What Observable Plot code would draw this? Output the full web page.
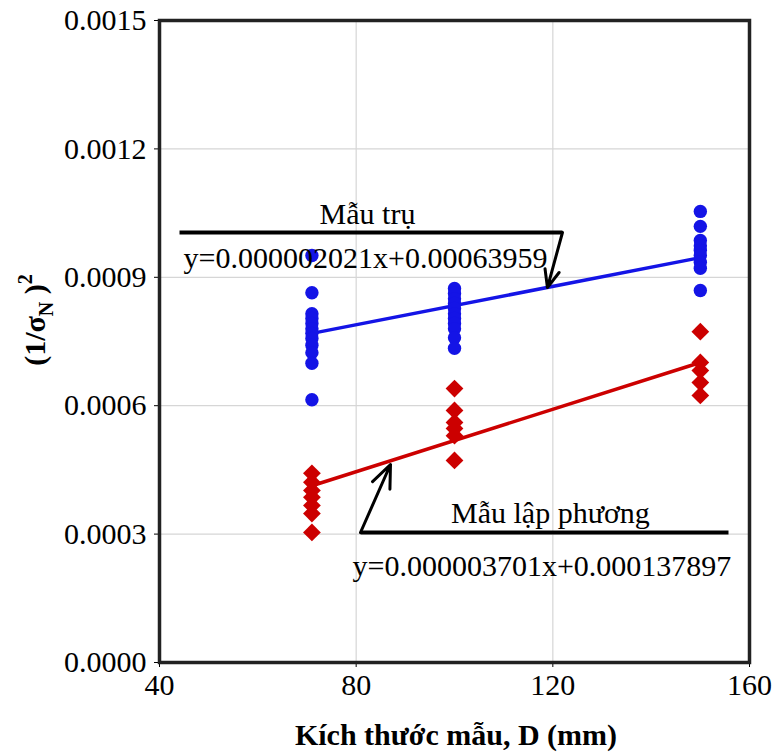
<!DOCTYPE html>
<html>
<head>
<meta charset="utf-8">
<script src="https://cdn.jsdelivr.net/npm/d3@7"></script>
<script src="https://cdn.jsdelivr.net/npm/@observablehq/plot@0.6"></script>
<style>
  html, body { margin: 0; padding: 0; background: #fff; }
</style>
</head>
<body>
<div id="chart"></div>
<script>
// ---- data ----
const xTicks = [40, 80, 120, 160];
const yTicks = [0, 0.0003, 0.0006, 0.0009, 0.0012, 0.0015];
const sizes = [71, 100, 150];

// cylinder specimens ("Mẫu trụ")
const cylAt71 = [0.000951, 0.000864, 0.000815, 0.000804, 0.000792, 0.000780, 0.000769, 0.000757, 0.000741, 0.000724, 0.000699, 0.000614];
const cylAt100 = [0.000874, 0.000862, 0.000850, 0.000839, 0.000827, 0.000815, 0.000804, 0.000792, 0.000780, 0.000759, 0.000734];
const cylAt150 = [0.001054, 0.001019, 0.000986, 0.000974, 0.000963, 0.000951, 0.000935, 0.000921, 0.000869];

// cube specimens ("Mẫu lập phương")
const cubeAt71 = [0.000442, 0.000421, 0.000402, 0.000386, 0.000367, 0.000348, 0.000304];
const cubeAt100 = [0.000640, 0.000589, 0.000561, 0.000547, 0.000530, 0.000472];
const cubeAt150 = [0.000773, 0.000701, 0.000682, 0.000654, 0.000624];

// fitted lines (end points as drawn)
const fitX = [71, 150];
const fitCyl = [0.000769, 0.000946];
const fitCube = [0.000413, 0.000701];

// annotation texts and anchors (data units)
const nameText = ["Mẫu trụ", "Mẫu lập phương"];
const nameX = [82.3, 119.5];
const nameY = [0.0010474, 0.0003488];
const eqText = ["y=0.000002021x+0.00063959", "y=0.000003701x+0.000137897"];
const eqX = [44.9, 79.25];
const eqY = [0.0009446, 0.000225];

const leaderX1 = [44.07, 80.88];
const leaderX2 = [121.96, 155.73];
const leaderY = [0.0010047, 0.0003037];
const arrowFromX = [121.96, 80.88];
const arrowFromY = [0.0010047, 0.0003037];
const arrowToX = [118.9, 86.98];
const arrowToY = [0.000876, 0.0004626];

// ---- build tables ----
const cylPts = [cylAt71, cylAt100, cylAt150].flatMap((vals, i) => vals.map(v => ({x: sizes[i], y: v})));
const cubePts = [cubeAt71, cubeAt100, cubeAt150].flatMap((vals, i) => vals.map(v => ({x: sizes[i], y: v})));
const cylFit = fitX.map((x, i) => ({x, y: fitCyl[i]}));
const cubeFit = fitX.map((x, i) => ({x, y: fitCube[i]}));
const names = nameText.map((t, i) => ({t, x: nameX[i], y: nameY[i]}));
const eqs = eqText.map((t, i) => ({t, x: eqX[i], y: eqY[i]}));
const leaders = leaderX1.map((x1, i) => ({x1, x2: leaderX2[i], y: leaderY[i]}));
const arrows = arrowFromX.map((x1, i) => ({x1, y1: arrowFromY[i], x2: arrowToX[i], y2: arrowToY[i]}));

const BLUE = "#1414e6";
const RED = "#cc0000";
const FONT = "'Liberation Serif', 'Times New Roman', serif";

const svg = Plot.plot({
  width: 778,
  height: 754,
  marginLeft: 159,
  marginRight: 29,
  marginTop: 20,
  marginBottom: 92,
  style: {fontFamily: FONT, fontSize: "30px", color: "#000", background: "#fff"},
  x: {domain: [40, 160]},
  y: {domain: [0, 0.0015]},
  marks: [
    Plot.gridY(yTicks, {stroke: "#d6d6d6", strokeOpacity: 1, strokeWidth: 1.2}),
    Plot.gridX(xTicks, {stroke: "#d6d6d6", strokeOpacity: 1, strokeWidth: 1.2}),
    Plot.axisY({ticks: yTicks, tickFormat: d3.format(".4f"), tickSize: 5, tickPadding: 8, label: null, fontSize: 30}),
    Plot.axisX({ticks: xTicks, tickSize: 5, tickPadding: 6, label: null, fontSize: 30}),
    Plot.line(cylFit, {x: "x", y: "y", stroke: BLUE, strokeWidth: 3.5}),
    Plot.line(cubeFit, {x: "x", y: "y", stroke: RED, strokeWidth: 3.5}),
    Plot.dot(cylPts, {x: "x", y: "y", r: 6.7, fill: BLUE, stroke: null}),
    Plot.dot(cubePts, {x: "x", y: "y", r: 8, symbol: "diamond2", fill: RED, stroke: null}),
    Plot.text(names, {x: "x", y: "y", text: "t", textAnchor: "middle", fontSize: 30, fill: "#000", lineAnchor: "middle"}),
    Plot.text(eqs, {x: "x", y: "y", text: "t", textAnchor: "start", fontSize: 30, fill: "#000", lineAnchor: "middle"}),
    Plot.link(leaders, {x1: "x1", x2: "x2", y1: "y", y2: "y", stroke: "#000", strokeWidth: 4}),
    Plot.arrow(arrows, {x1: "x1", y1: "y1", x2: "x2", y2: "y2", stroke: "#000", strokeWidth: 3, headLength: 16, headAngle: 45}),
    Plot.frame({stroke: "#222", strokeWidth: 3.5})
  ]
});

const s = d3.select(svg);
// x axis title
s.append("text")
  .attr("x", 456).attr("y", 745)
  .attr("text-anchor", "middle")
  .attr("font-family", FONT).attr("font-weight", "bold").attr("font-size", 30)
  .attr("fill", "#000")
  .text("Kích thước mẫu, D (mm)");
// y axis title with subscript / superscript
const yl = s.append("text")
  .attr("transform", "translate(45,320) rotate(-90)")
  .attr("text-anchor", "middle")
  .attr("font-family", FONT).attr("font-weight", "bold").attr("font-size", 30)
  .attr("fill", "#000");
yl.append("tspan").text("(1/σ");
yl.append("tspan").attr("font-size", 20).attr("dy", 8).text("N");
yl.append("tspan").attr("dy", -8).text(" )");
yl.append("tspan").attr("font-size", 20).attr("dy", -13).text("2");

document.getElementById("chart").appendChild(svg);
</script>
</body>
</html>
